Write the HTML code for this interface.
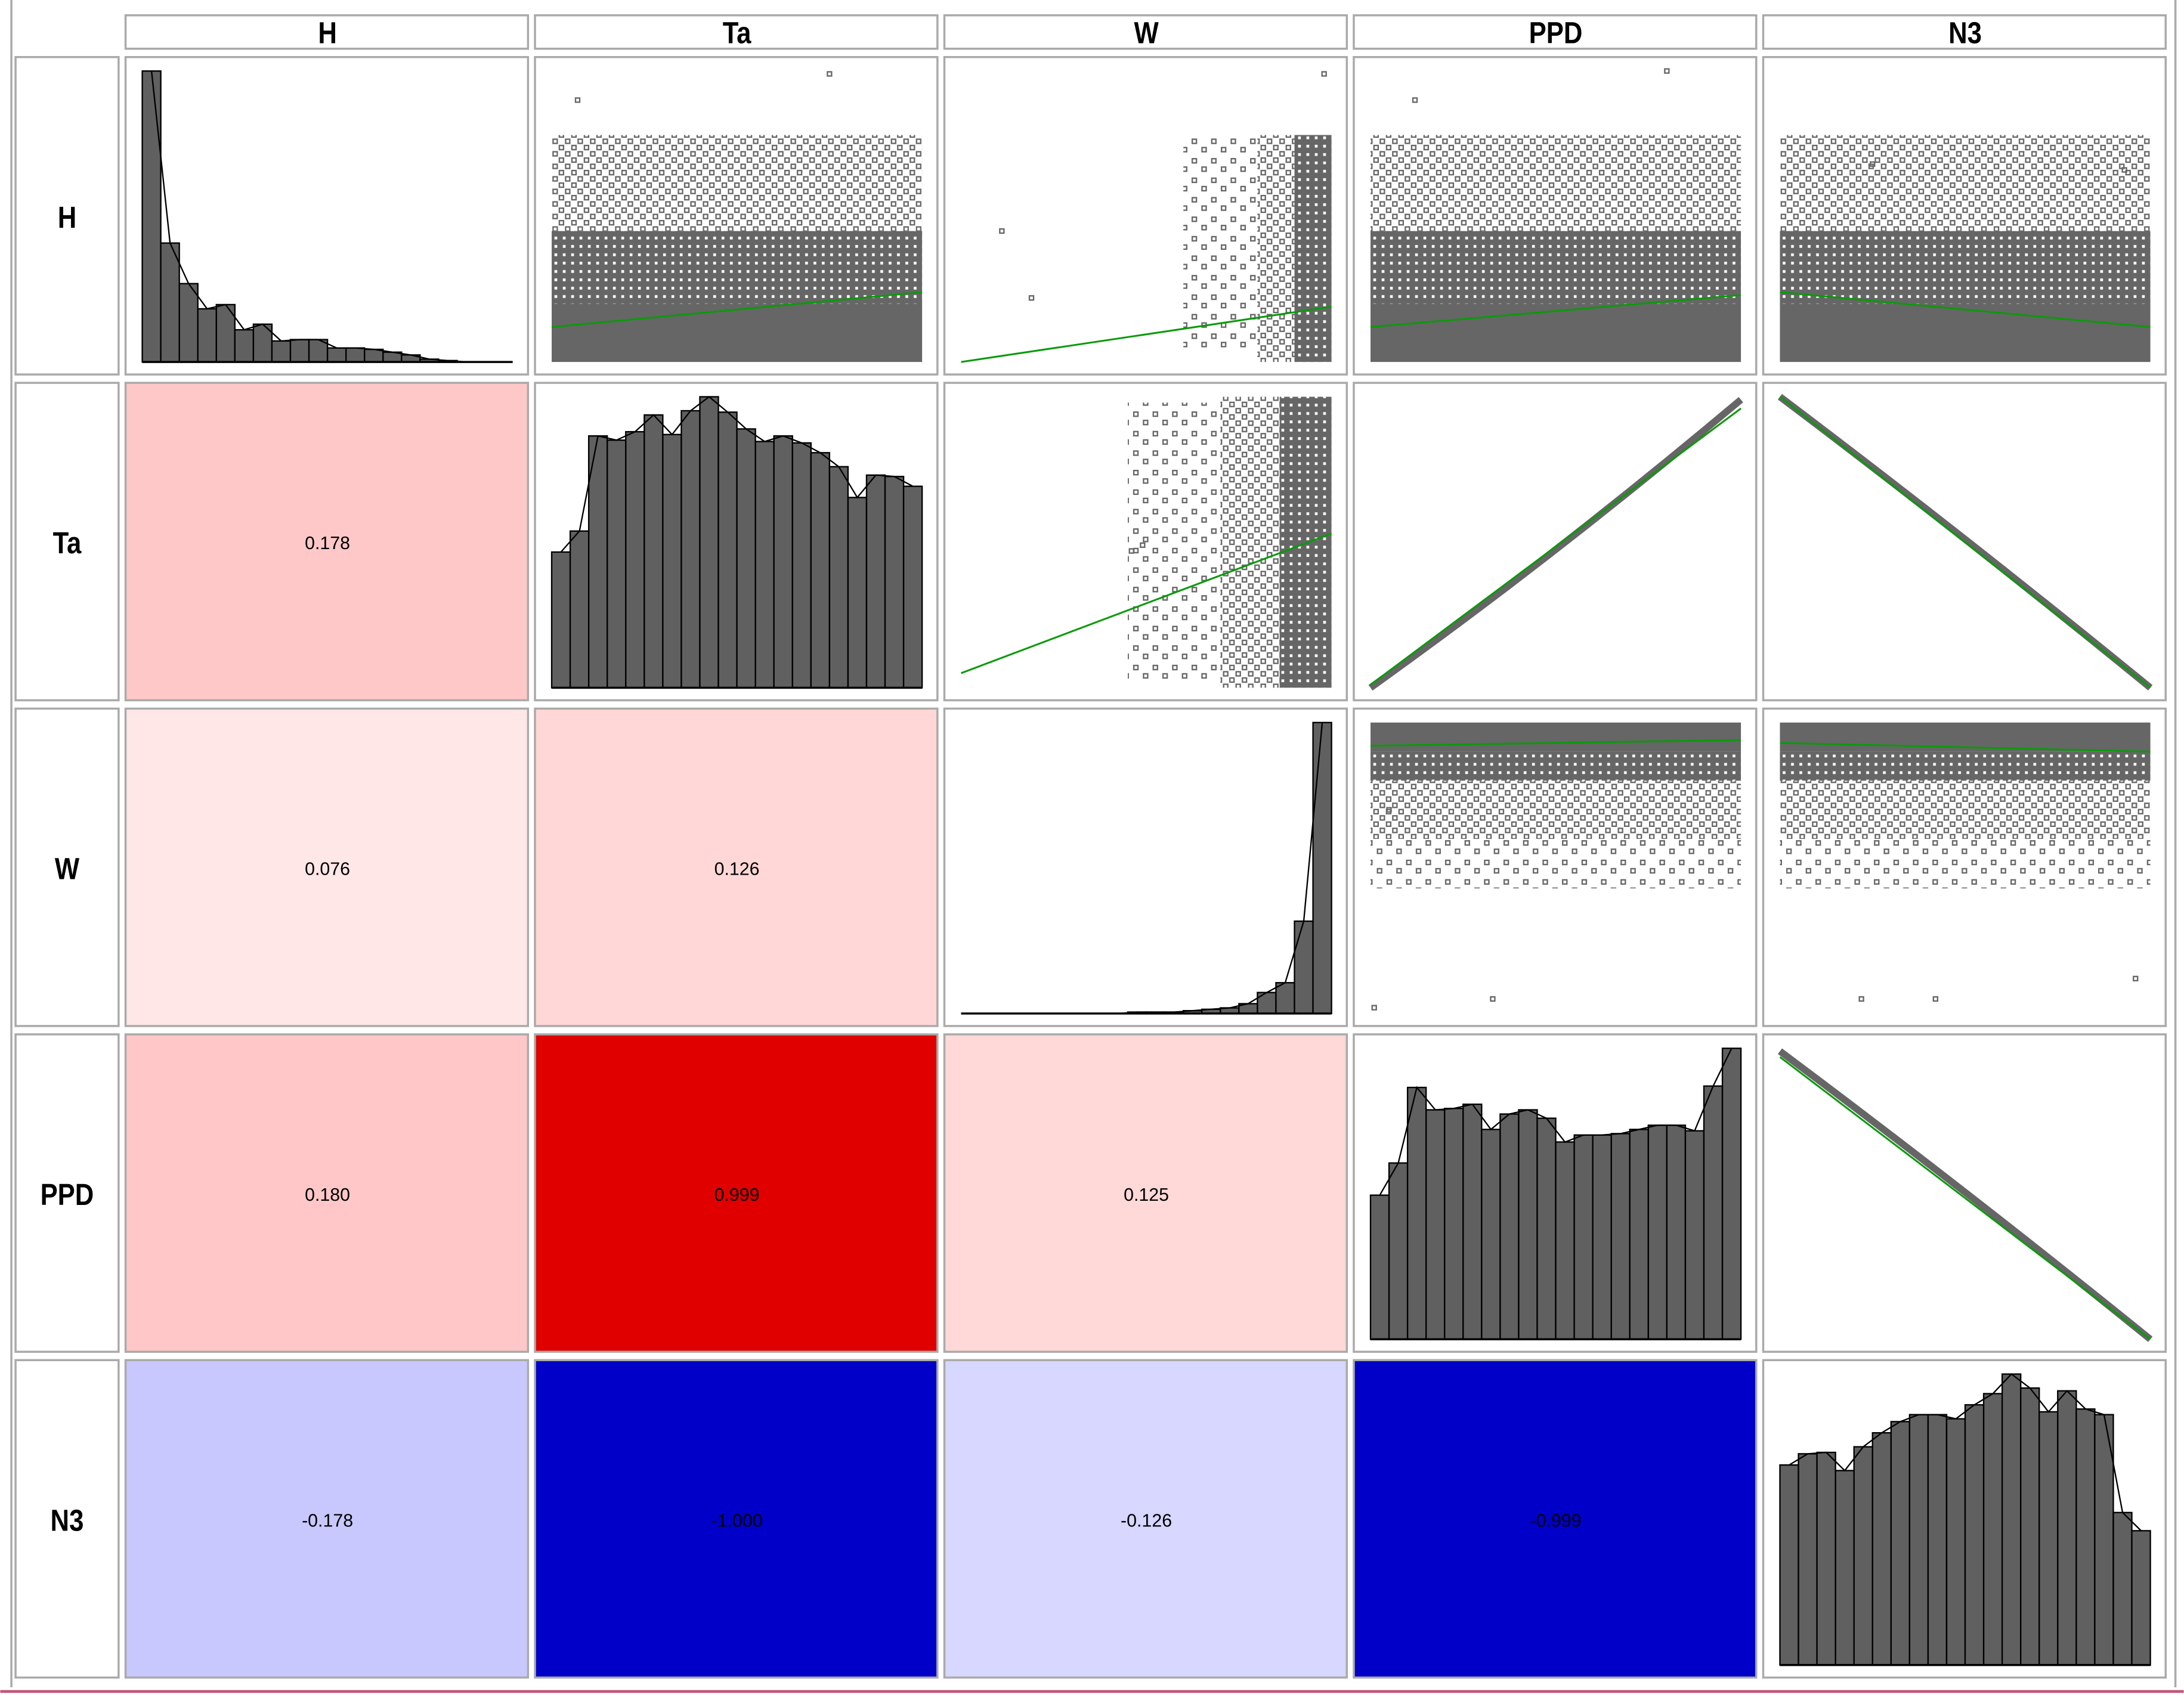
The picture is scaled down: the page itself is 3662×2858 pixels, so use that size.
<!DOCTYPE html>
<html><head><meta charset="utf-8"><style>
html,body{margin:0;padding:0;background:#fff;}
svg{display:block;}
.hdr{font-family:"Liberation Sans",Arial,sans-serif;font-weight:bold;font-size:22px;fill:#000;}
.val{font-family:"Liberation Sans",Arial,sans-serif;font-size:13px;fill:#000;}
</style></head><body>
<svg id="chart" width="3662" height="2858" viewBox="0 0 1568 1224" xmlns="http://www.w3.org/2000/svg">
<defs>
<pattern id="sparse" width="9" height="9" patternUnits="userSpaceOnUse"><rect x="1" y="1" width="3" height="3" fill="none" stroke="#666" stroke-width="1"/><rect x="5.5" y="5.5" width="3" height="3" fill="none" stroke="#666" stroke-width="1"/></pattern>
<pattern id="mid" width="6" height="6" patternUnits="userSpaceOnUse"><rect x="0" y="0" width="6" height="6" fill="#666"/><rect x="2" y="2" width="2" height="2" fill="#fff"/></pattern>
<pattern id="light" width="14" height="14" patternUnits="userSpaceOnUse"><rect x="2" y="2" width="3" height="3" fill="none" stroke="#666"/><rect x="9" y="8" width="3" height="3" fill="none" stroke="#666"/></pattern>
</defs>
<g id="root"></g>
</svg>
<script>
const vars = ["H","Ta","W","PPD","N3"];
const corrValues = [0.178,0.076,0.126,0.180,0.999,0.125,-0.178,-1.000,-0.126,-0.999];
const corrLabels = ["0.178","0.076","0.126","0.180","0.999","0.125","-0.178","-1.000","-0.126","-0.999"];
const corrCells = [[1,0],[2,0],[2,1],[3,0],[3,1],[3,2],[4,0],[4,1],[4,2],[4,3]];
const histH = [208,85,56,38,41,23,27,15,16,16,10,10,9,7,5,2,1,0,0,0];
const histTa = [97,112,180,177,183,195,181,198,208,197,185,176,180,175,168,158,136,152,151,144];
const histW = [0,0,0,0,0,0,0,0,0,1,1,1,2,3,4,7,15,22,66,208];
const histPPD = [103,126,180,164,165,168,150,161,164,158,141,146,146,147,150,153,153,149,181,208];
const histN3 = [143,151,152,139,156,166,174,179,179,176,186,194,208,198,181,196,183,179,109,96];
const fitStart = [0.12,0.0,0.12,0.24, 0.05,0.01,1.0, 0.92,0.93, 0.97];
const fitEnd   = [0.24,0.19,0.23,0.12, 0.53,0.96,0.0, 0.94,0.90, 0.0];
const fitCells = [[0,1],[0,2],[0,3],[0,4],[1,2],[1,3],[1,4],[2,3],[2,4],[3,4]];
const outX = [0.07,0.75,0.98, 0.11,0.19,0.49,0.46, 0.12,0.80, 0.25,0.93, 0.33,0.05,0.42, 0.22,0.96,0.01];
const outY = [0.90,0.99,0.99, 0.45,0.22,0.49,0.47, 0.90,1.0, 0.68,0.66, 0.05,0.70,0.05, 0.05,0.12,0.02];
const outCell = ["0,1","0,1","0,2","0,2","0,2","1,2","1,2","0,3","0,3","0,4","0,4","2,3","2,3","2,4","2,4","2,4","2,3"];

const NS="http://www.w3.org/2000/svg";
const root=document.getElementById('root');
function mk(tag,attrs,parent){const e=document.createElementNS(NS,tag);for(const k in attrs)e.setAttribute(k,attrs[k]);(parent||root).appendChild(e);return e;}
const colX=[90,384,678,972,1266], colW=290;
const rowY=[41,275,509,743,977], rowH=229;
function plotArea(r,c){return {x:colX[c]+12,y:rowY[r]+10,w:colW-24,h:rowH-20};}
function px(a,f){return a.x+f*a.w;}
function py(a,f){return a.y+a.h-f*a.h;}

let e=mk('line',{x1:8,y1:0,x2:8,y2:1212,stroke:'#aaa','stroke-width':1.5});

e=mk('line',{x1:0,y1:1215,x2:1568,y2:1215,stroke:'#c05878','stroke-width':2});

e=mk('line',{x1:1562,y1:0,x2:1562,y2:1212,stroke:'#aaa','stroke-width':1.5});


vars.forEach((v,i)=>{
  let b=mk('rect',{x:colX[i],y:11,width:colW-1,height:24,fill:'#fff',stroke:'#aaa','stroke-width':1.5});
  
  let t=mk('text',{x:colX[i]+colW/2,y:31,'text-anchor':'middle',class:'hdr',transform:`translate(${colX[i]+colW/2},0) scale(0.85,1) translate(${-(colX[i]+colW/2)},0)`});
  t.textContent=v;
  b=mk('rect',{x:11,y:rowY[i],width:74,height:rowH-1,fill:'#fff',stroke:'#aaa','stroke-width':1.5});
  
  t=mk('text',{x:48,y:rowY[i]+rowH/2+8,'text-anchor':'middle',class:'hdr',transform:`translate(48,0) scale(0.85,1) translate(-48,0)`});
  t.textContent=v;
  for(let j=0;j<5;j++){
    if(j<i) continue;
    b=mk('rect',{x:colX[j],y:rowY[i],width:colW-1,height:rowH-1,fill:'#fff',stroke:'#aaa','stroke-width':1.5});
    
  }
});

function corrColor(r){const a=Math.abs(r);
  const g=Math.round(255*Math.pow(1-a,1.25));
  if(r>0){const rr=Math.round(255-31*Math.pow(a,4));return `rgb(${rr},${g},${g})`;}
  const bb=Math.round(255-55*Math.pow(a,4));return `rgb(${g},${g},${bb})`;}
corrCells.forEach((rc,k)=>{
  const [r,c]=rc;
  const b=mk('rect',{x:colX[c],y:rowY[r],width:colW-1,height:rowH-1,fill:corrColor(corrValues[k]),stroke:'#aaa','stroke-width':1.5});
  
  const t=mk('text',{x:colX[c]+colW/2,y:rowY[r]+rowH/2+5,'text-anchor':'middle',class:'val'});
  t.textContent=corrLabels[k];
});

const hists=[histH,histTa,histW,histPPD,histN3];
hists.forEach((h,i)=>{
  const a=plotArea(i,i); const bw=a.w/h.length; const scale=a.h/208;
  const pts=[];
  h.forEach((v,k)=>{
    const bar=mk('rect',{x:a.x+k*bw,y:a.y+a.h-v*scale,width:bw,height:v*scale,fill:'#606060',stroke:'#000','stroke-width':1});
    
    pts.push((a.x+(k+0.5)*bw)+','+(a.y+a.h-v*scale));
  });
  const base=mk('line',{x1:a.x,y1:a.y+a.h,x2:a.x+a.w,y2:a.y+a.h,stroke:'#000','stroke-width':1.5});
  
  const pl=mk('polyline',{points:pts.join(' '),fill:'none',stroke:'#000','stroke-width':1});
  
});

function region(r,c,x0,x1,y0,y1,fill,name){const a=plotArea(r,c);
  const el=mk('rect',{x:px(a,x0),y:py(a,y1),width:(x1-x0)*a.w,height:(y1-y0)*a.h,fill:fill});
  }
[[0,1],[0,3],[0,4]].forEach(rc=>{
  const n='scatter-cloud-'+vars[rc[0]].toLowerCase()+'-'+vars[rc[1]].toLowerCase();
  region(rc[0],rc[1],0,1,0.45,0.78,'url(#sparse)',n);
  region(rc[0],rc[1],0,1,0.2,0.45,'url(#mid)',n+'-mid');
  region(rc[0],rc[1],0,1,0,0.2,'#666',n+'-dense');
});
region(0,2,0.6,0.8,0.05,0.78,'url(#light)','scatter-cloud-h-w-sparse');
region(0,2,0.8,0.9,0,0.78,'url(#sparse)','scatter-cloud-h-w');
region(0,2,0.9,1,0,0.78,'url(#mid)','scatter-cloud-h-w-dense');
region(1,2,0.45,0.7,0.02,0.98,'url(#light)','scatter-cloud-ta-w-sparse');
region(1,2,0.7,0.86,0.0,1,'url(#sparse)','scatter-cloud-ta-w');
region(1,2,0.86,1,0.0,1,'url(#mid)','scatter-cloud-ta-w-dense');
[[2,3],[2,4]].forEach(rc=>{
  const n='scatter-cloud-'+vars[rc[0]].toLowerCase()+'-'+vars[rc[1]].toLowerCase();
  region(rc[0],rc[1],0,1,0.9,1,'#666',n+'-dense');
  region(rc[0],rc[1],0,1,0.8,0.9,'url(#mid)',n+'-mid');
  region(rc[0],rc[1],0,1,0.6,0.8,'url(#sparse)',n);
  region(rc[0],rc[1],0,1,0.43,0.6,'url(#light)',n+'-sparse');
});
function band(r,c,f0,f1,name){const a=plotArea(r,c);
  const d=`M${px(a,0)},${py(a,f0)} Q${px(a,0.5)},${py(a,(f0+f1)/2+(f1>f0?-0.04:0.02))} ${px(a,1)},${py(a,f1)}`;
  const el=mk('path',{d:d,fill:'none',stroke:'#666','stroke-width':5});
  }
band(1,3,0,0.99,'scatter-band-ta-ppd');
band(1,4,1,0,'scatter-band-ta-n3');
band(3,4,0.99,0.0,'scatter-band-ppd-n3');

outX.forEach((x,k)=>{const [r,c]=outCell[k].split(',').map(Number);const a=plotArea(r,c);
  const p=mk('rect',{x:px(a,x)-1.5,y:py(a,outY[k])-1.5,width:3,height:3,fill:'none',stroke:'#666','stroke-width':1});
  });

fitCells.forEach((rc,k)=>{const a=plotArea(rc[0],rc[1]);
  const l=mk('line',{x1:px(a,0),y1:py(a,fitStart[k]),x2:px(a,1),y2:py(a,fitEnd[k]),stroke:'#0a9a0a','stroke-width':1.3});
  });
</script>
</body></html>
